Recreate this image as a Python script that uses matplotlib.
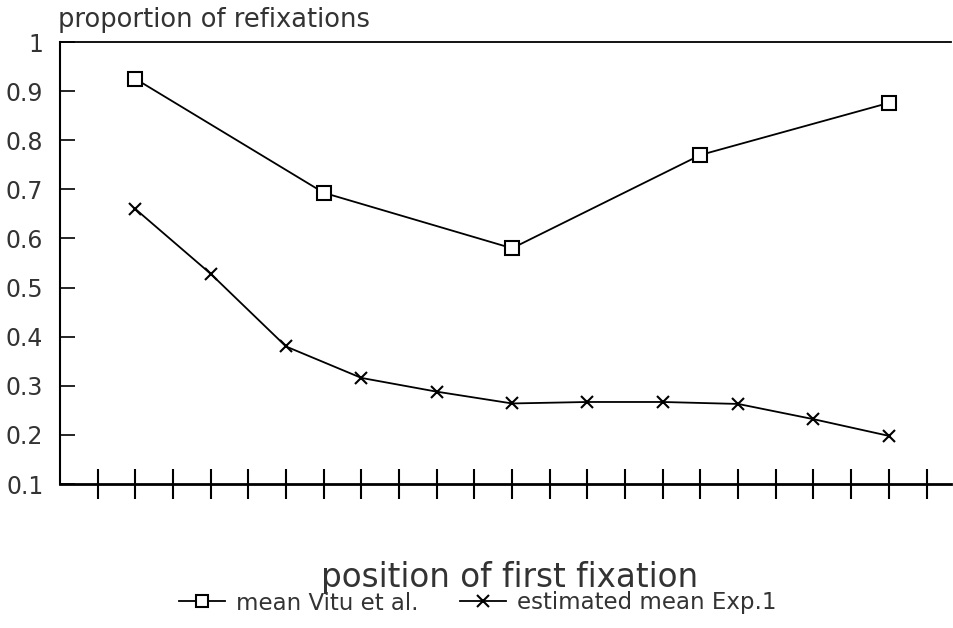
import matplotlib
matplotlib.use("Agg")
import matplotlib.pyplot as plt

plt.rcParams['font.family'] = ['DejaVu Sans']

vitu_x = [2, 7, 12, 17, 22]
vitu_y = [0.925, 0.693, 0.580, 0.770, 0.876]
exp_x = [2, 4, 6, 8, 10, 12, 14, 16, 18, 20, 22]
exp_y = [0.660, 0.528, 0.380, 0.316, 0.288, 0.264, 0.267, 0.267, 0.263, 0.232, 0.198]
x_ticks = list(range(1, 24))
y_ticks = [0.1, 0.2, 0.3, 0.4, 0.5, 0.6, 0.7, 0.8, 0.9, 1.0]
y_ticklabels = ['0.1', '0.2', '0.3', '0.4', '0.5', '0.6', '0.7', '0.8', '0.9', '1']

fig = plt.figure(figsize=(9.54, 6.28), dpi=100)
ax = fig.add_axes([60/954, 1-484/628, (951-60)/954, (484-42)/628])

ax.plot(vitu_x, vitu_y, color='black', lw=1.3, marker='s', ms=10,
        mfc='white', mec='black', mew=1.5, label='mean Vitu et al.')
ax.plot(exp_x, exp_y, color='black', lw=1.3, marker='x', ms=9,
        mew=1.5, label='estimated mean Exp.1')

ax.set_xlim(0, 23.65)
ax.set_ylim(0.1, 1.0)
ax.set_xticks(x_ticks)
ax.set_xticklabels([])
ax.set_yticks(y_ticks)
ax.set_yticklabels(y_ticklabels, fontsize=17, color='#333333')
ax.tick_params(axis='x', direction='inout', length=22, width=1.5)
ax.tick_params(axis='y', direction='in', length=11, width=1.2, pad=12)

ax.spines['right'].set_visible(False)
ax.spines['bottom'].set_linewidth(2)
ax.spines['left'].set_linewidth(1.5)
ax.spines['top'].set_linewidth(1.3)

fig.text(58/954, 1-20/628, 'proportion of refixations', fontsize=18.5,
         ha='left', va='center', color='#333333')
fig.text(510/954, 1-578/628, 'position of first fixation', fontsize=23.5,
         ha='center', va='center', color='#333333')

leg = fig.legend(loc='center', bbox_to_anchor=(478/954, 1-603/628), ncol=2,
                 frameon=False, fontsize=16.5, handlelength=2.0, columnspacing=1.8,
                 handletextpad=0.5)
for t in leg.get_texts():
    t.set_color('#333333')
for h in leg.legend_handles:
    h.set_markersize(8)

fig.savefig('out.png', dpi=100)
